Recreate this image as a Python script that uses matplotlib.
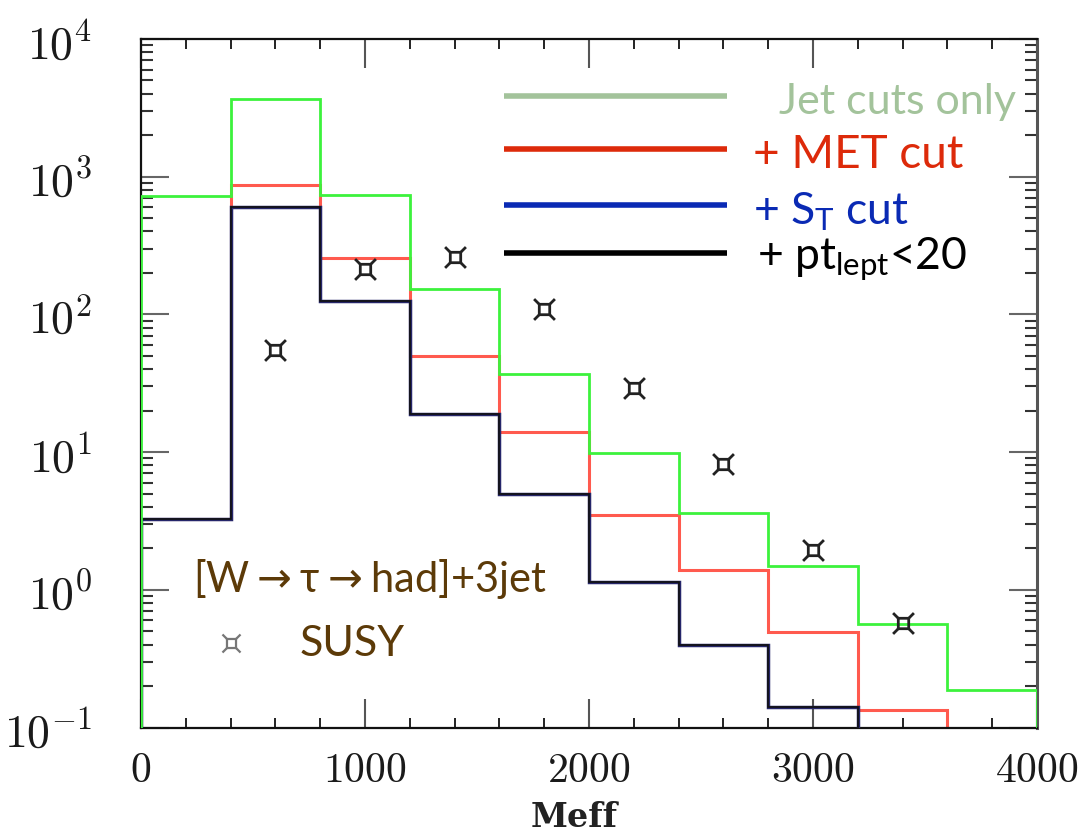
import numpy as np
import matplotlib
matplotlib.use('Agg')
import matplotlib.pyplot as plt
from matplotlib.path import Path
from matplotlib.ticker import FixedLocator, NullFormatter, LogLocator, MultipleLocator

# ---------------- data ----------------
bin_edges = [0, 400, 800, 1200, 1600, 2000, 2400, 2800, 3200, 3600, 4000]
jet_cuts_only = [728, 3670, 740, 153, 37, 9.8, 3.6, 1.49, 0.56, 0.186]
met_cut = [3.27, 870, 255, 50, 14, 3.5, 1.4, 0.49, 0.133, 0.0]
st_cut = [3.27, 600, 126, 19, 5.0, 1.14, 0.40, 0.14, 0.0, 0.0]
pt_lept_cut = [3.27, 600, 126, 19, 5.0, 1.14, 0.40, 0.14, 0.0, 0.0]

susy_x = [600, 1000, 1400, 1800, 2200, 2600, 3000, 3400]
susy_y = [55, 215, 259, 109, 29, 8.2, 1.95, 0.57]

xtick_values = [0, 1000, 2000, 3000, 4000]
xtick_labels = ['0', '1000', '2000', '3000', '4000']
ytick_values = [0.1, 1, 10, 100, 1000, 10000]
ytick_labels = [r'$10^{-1}$', r'$10^{0}$', r'$10^{1}$', r'$10^{2}$', r'$10^{3}$', r'$10^{4}$']

legend_labels = ['Jet cuts only', '+ MET cut', r'+ $\mathrm{S_T}$ cut', r'+ $\mathrm{pt_{lept}}$<20']
legend_colors = ['#a3c39b', '#dd2a0a', '#0a2ab4', '#000000']
process_label = '[W$\\rightarrow$\u03c4$\\rightarrow$had]+3jet'
susy_label = 'SUSY'

# ---------------- style ----------------
plt.rcParams['mathtext.fontset'] = 'cm'
plt.rcParams['mathtext.rm'] = 'Lato'
plt.rcParams['font.family'] = ['Lato', 'DejaVu Sans']

W, H = 1086, 837
fig = plt.figure(figsize=(W / 100, H / 100), dpi=100)
ax = fig.add_axes([141 / W, 1 - 728.5 / H, (1037 - 141) / W, (728.5 - 40) / H])

ax.set_yscale('log')
ax.set_xlim(0, 4000)
ax.set_ylim(0.1, 10000)

def floor(v):
    return np.maximum(np.asarray(v, dtype=float), 1e-4)

ax.stairs(floor(met_cut), bin_edges, baseline=1e-4, color='#ff5a4e', lw=2.2, zorder=2)
ax.stairs(floor(st_cut), bin_edges, baseline=1e-4, color='#26266a', lw=2.5, zorder=3)
ax.stairs(floor(pt_lept_cut), bin_edges, baseline=1e-4, color='#111111', lw=1.2, zorder=4)
ax.stairs(floor(jet_cuts_only), bin_edges, baseline=1e-4, color='#3cf23c', lw=2.0, zorder=5)

# SUSY marker: square with diagonal corner spurs
verts = [(-0.5, -0.5), (0.5, -0.5), (0.5, 0.5), (-0.5, 0.5), (-0.5, -0.5),
         (0.5, 0.5), (1, 1), (-0.5, 0.5), (-1, 1), (-0.5, -0.5), (-1, -1), (0.5, -0.5), (1, -1)]
codes = [Path.MOVETO, Path.LINETO, Path.LINETO, Path.LINETO, Path.CLOSEPOLY,
         Path.MOVETO, Path.LINETO, Path.MOVETO, Path.LINETO, Path.MOVETO, Path.LINETO, Path.MOVETO, Path.LINETO]
susy_marker = Path(verts, codes)
ax.plot(susy_x, susy_y, ls='none', marker=susy_marker, ms=15, mew=2.0,
        mec='#222222', mfc='none', zorder=6)

# ticks
ax.xaxis.set_major_locator(FixedLocator(xtick_values))
ax.set_xticklabels([r'$\mathrm{%s}$' % t for t in xtick_labels])
ax.xaxis.set_minor_locator(MultipleLocator(200))
ax.yaxis.set_major_locator(FixedLocator(ytick_values))
ax.set_yticklabels(ytick_labels)
ax.yaxis.set_minor_locator(LogLocator(base=10, subs=np.arange(2, 10)))
ax.yaxis.set_minor_formatter(NullFormatter())

ax.tick_params(which='both', direction='in', top=True, right=True)
ax.tick_params(axis='x', which='major', length=21, width=1.5, color='#555555', pad=16,
               labelsize=30, labelcolor='#1a1a1a')
ax.tick_params(axis='x', which='minor', length=7, width=1.4, color='#222222')
ax.tick_params(axis='y', which='major', length=20, width=1.5, color='#666666', pad=35,
               labelsize=33, labelcolor='#1a1a1a')
ax.tick_params(axis='y', which='minor', length=8.5, width=1.5, color='#333333')

for side in ['left', 'bottom', 'top']:
    ax.spines[side].set_linewidth(1.6)
    ax.spines[side].set_color('#111111')
ax.spines['right'].set_linewidth(2.2)
ax.spines['right'].set_color('#555555')

ax.set_xlabel('Meff', fontsize=24, fontweight='bold', family='DejaVu Serif', color='#222222')
ax.xaxis.set_label_coords((574 - 141) / 896, -(818 - 728.5) / 688.5)
ax.xaxis.label.set_va('center')

# legend (manual)
legend_y = [0.9176, 0.8405, 0.7594, 0.6897]
text_x = [0.712, 0.683, 0.683, 0.688]
text_size = [31, 33, 32, 32]
for lab, col, yy, tx, fs in zip(legend_labels, legend_colors, legend_y, text_x, text_size):
    ax.plot([0.405, 0.654], [yy, yy], transform=ax.transAxes, color=col, lw=4.0,
            solid_capstyle='butt', zorder=7, clip_on=False)
    ax.text(tx, yy - 0.008, lab, transform=ax.transAxes, color=col, fontsize=fs,
            va='center', ha='left', math_fontfamily='custom', zorder=7)

ax.text(0.058, 0.2176, process_label, transform=ax.transAxes, color='#5c3a08',
        fontsize=30, va='center', ha='left', math_fontfamily='dejavusans')
ax.plot([0.1004], [0.1234], transform=ax.transAxes, ls='none', marker=susy_marker, ms=13,
        mew=1.6, mec='#777777', mfc='none')
ax.text(0.177, 0.1234, susy_label, transform=ax.transAxes, color='#5c3a08',
        fontsize=31, va='center', ha='left')

fig.savefig('out.png', dpi=100)
